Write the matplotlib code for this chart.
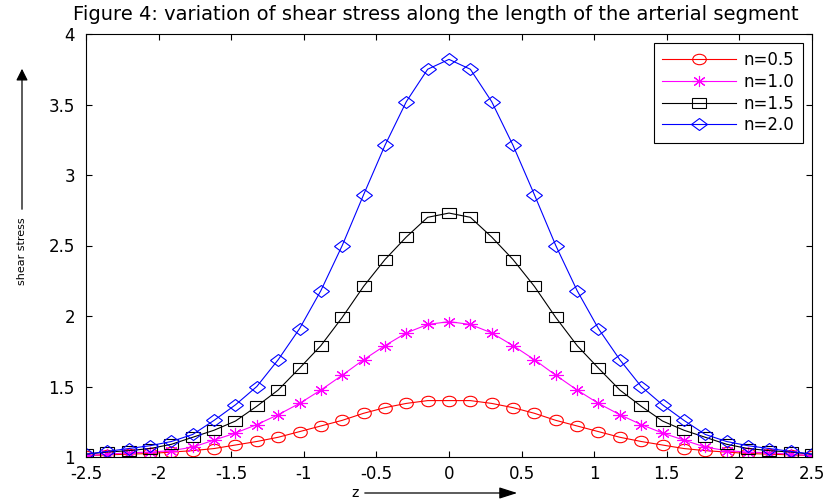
import numpy as np
import matplotlib
matplotlib.use("Agg")
import matplotlib.pyplot as plt
from matplotlib.markers import MarkerStyle
from matplotlib.transforms import Affine2D
from matplotlib.ticker import FuncFormatter, MultipleLocator

plt.rcParams['axes.unicode_minus'] = False
plt.rcParams['font.family'] = ['DejaVu Sans']

# axial position along the segment
z = np.linspace(-2.5, 2.5, 35)

# shear stress for each flow index n
tau_n05 = [1.01, 1.015, 1.02, 1.025, 1.035, 1.045, 1.06, 1.085, 1.11, 1.14, 1.18, 1.22,
           1.26, 1.31, 1.35, 1.38, 1.40, 1.40, 1.40, 1.38, 1.35, 1.31, 1.26, 1.22,
           1.18, 1.14, 1.11, 1.085, 1.06, 1.045, 1.035, 1.025, 1.02, 1.015, 1.01]
tau_n10 = [1.01, 1.02, 1.03, 1.035, 1.045, 1.07, 1.12, 1.17, 1.23, 1.30, 1.38, 1.475,
           1.58, 1.69, 1.79, 1.88, 1.94, 1.96, 1.94, 1.88, 1.79, 1.69, 1.58, 1.475,
           1.38, 1.30, 1.23, 1.17, 1.12, 1.07, 1.045, 1.035, 1.03, 1.02, 1.01]
tau_n15 = [1.02, 1.035, 1.045, 1.06, 1.09, 1.14, 1.19, 1.255, 1.36, 1.475, 1.63, 1.79,
           1.99, 2.21, 2.40, 2.56, 2.70, 2.73, 2.70, 2.56, 2.40, 2.21, 1.99, 1.79,
           1.63, 1.475, 1.36, 1.255, 1.19, 1.14, 1.09, 1.06, 1.045, 1.035, 1.02]
tau_n20 = [1.02, 1.04, 1.06, 1.08, 1.11, 1.16, 1.26, 1.37, 1.50, 1.69, 1.91, 2.18,
           2.50, 2.86, 3.21, 3.52, 3.75, 3.82, 3.75, 3.52, 3.21, 2.86, 2.50, 2.18,
           1.91, 1.69, 1.50, 1.37, 1.26, 1.16, 1.11, 1.08, 1.06, 1.04, 1.02]

labels = ['n=0.5', 'n=1.0', 'n=1.5', 'n=2.0']
colors = ['#ff0000', '#ff00ff', '#000000', '#0000ff']

stretch = Affine2D().scale(1.3, 1.0)
markers = [MarkerStyle('o', fillstyle='none', transform=stretch),
           MarkerStyle((8, 2, 0), transform=stretch),
           MarkerStyle('s', fillstyle='none', transform=stretch),
           MarkerStyle('D', fillstyle='none', transform=stretch)]
msizes = [7.5, 8, 7.5, 6]

fig = plt.figure(figsize=(8.29, 5.01), dpi=100)
ax = fig.add_axes([86 / 829, 1 - 457 / 501, (812 - 86) / 829, (457 - 34) / 501])

for y, lab, c, m, ms in zip([tau_n05, tau_n10, tau_n15, tau_n20], labels, colors, markers, msizes):
    ax.plot(z, y, color=c, lw=0.8, marker=m, ms=ms, mec=c, mfc='none', mew=0.8, label=lab)

ax.set_xlim(-2.5, 2.5)
ax.set_ylim(1, 4)
ax.xaxis.set_major_locator(MultipleLocator(0.5))
ax.yaxis.set_major_locator(MultipleLocator(0.5))
fmt = FuncFormatter(lambda v, p: '%g' % v)
ax.xaxis.set_major_formatter(fmt)
ax.yaxis.set_major_formatter(fmt)
ax.tick_params(direction='in', length=4.5, width=0.8, top=True, right=True, labelsize=12)
ax.tick_params(axis='x', pad=5.5)
ax.tick_params(axis='y', pad=8)
for s in ax.spines.values():
    s.set_linewidth(0.8)

leg = ax.legend(loc='upper right', bbox_to_anchor=(803 / 829, 1 - 43 / 501),
                bbox_transform=fig.transFigure, fancybox=False, framealpha=1,
                edgecolor='black', fontsize=12, handlelength=4.4, handletextpad=0.5,
                labelspacing=0.22, borderpad=0.5, borderaxespad=0)
leg.get_frame().set_linewidth(0.8)

fig.text(436 / 829, 1 - 15 / 501,
         'Figure 4: variation of shear stress along the length of the arterial segment',
         ha='center', va='center', fontsize=14)

# axis names with direction arrows
fig.text(22 / 829, 1 - 251 / 501, 'shear stress', rotation=90, ha='center', va='center',
         fontsize=8)
fig.add_artist(matplotlib.patches.FancyArrowPatch(
    (22 / 829, 1 - 212 / 501), (22 / 829, 1 - 66 / 501), transform=fig.transFigure,
    arrowstyle='-|>,head_length=7,head_width=3.5', color='black', lw=0.9, mutation_scale=1))
fig.text(355 / 829, 1 - 493 / 501, 'z', ha='center', va='center', fontsize=10)
fig.add_artist(matplotlib.patches.FancyArrowPatch(
    (362 / 829, 1 - 493 / 501), (520 / 829, 1 - 493 / 501), transform=fig.transFigure,
    arrowstyle='-|>,head_length=11,head_width=3.5', color='black', lw=0.9, mutation_scale=1))

fig.savefig('out.png', dpi=100)
